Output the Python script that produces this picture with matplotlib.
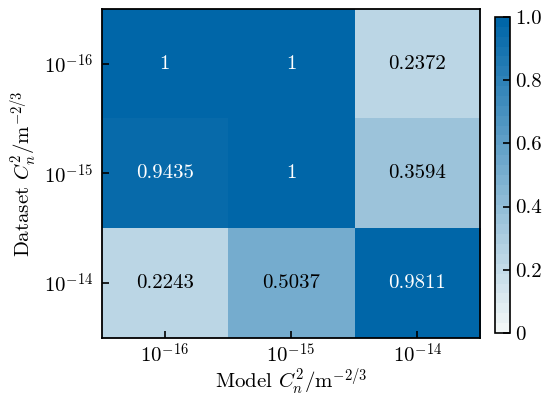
import numpy as np
import matplotlib
matplotlib.use("Agg")
import matplotlib.pyplot as plt
from matplotlib.colors import LinearSegmentedColormap

# values
model_labels = [r"$10^{-16}$", r"$10^{-15}$", r"$10^{-14}$"]
dataset_labels = [r"$10^{-16}$", r"$10^{-15}$", r"$10^{-14}$"]
row_1e16 = [1.0, 1.0, 0.2372]
row_1e15 = [0.9435, 1.0, 0.3594]
row_1e14 = [0.2243, 0.5037, 0.9811]
cell_text = [["1", "1", "0.2372"],
             ["0.9435", "1", "0.3594"],
             ["0.2243", "0.5037", "0.9811"]]

plt.rcParams["font.family"] = "serif"
plt.rcParams["font.serif"] = ["cmr10"]
plt.rcParams["mathtext.fontset"] = "cm"
plt.rcParams["axes.unicode_minus"] = False
fs = 15

cmap = LinearSegmentedColormap.from_list("blu", ["#f2f7f7", "#0066a8"], N=32)

vals = np.array([row_1e16, row_1e15, row_1e14])

fig = plt.figure(figsize=(5.47, 3.94), dpi=100)
ax = fig.add_axes([0.186, 0.142, 0.692, 0.836])
cax = fig.add_axes([0.905, 0.155, 0.028, 0.802])

im = ax.imshow(vals, cmap=cmap, vmin=0, vmax=1, aspect="auto")

for i in range(3):
    for j in range(3):
        c = "white" if vals[i, j] > 0.9 else "black"
        ax.text(j, i, cell_text[i][j], ha="center", va="center", color=c, fontsize=fs)

ax.set_xticks(range(3))
ax.set_xticklabels(model_labels)
ax.set_yticks(range(3))
ax.set_yticklabels(dataset_labels)
ax.tick_params(direction="in", length=5, width=1.2, labelsize=fs, pad=6)
ax.tick_params(axis="x", pad=3)
for s in ax.spines.values():
    s.set_linewidth(1.3)

ax.set_xlabel(r"Model $C_n^2/\mathrm{m}^{-2/3}$", fontsize=fs)
ax.xaxis.set_label_coords(0.5, -0.088, transform=ax.transAxes)
ax.xaxis.label.set_va("top")
ax.set_ylabel(r"Dataset $C_n^2/\mathrm{m}^{-2/3}$", fontsize=fs, labelpad=4)

cb = fig.colorbar(im, cax=cax)
cb.set_ticks([0, 0.2, 0.4, 0.6, 0.8, 1.0])
cb.set_ticklabels(["0", "0.2", "0.4", "0.6", "0.8", "1.0"])
cb.ax.tick_params(direction="in", length=5, width=1.2, labelsize=fs)
cb.outline.set_linewidth(1.2)

fig.savefig("out.png", dpi=100)
